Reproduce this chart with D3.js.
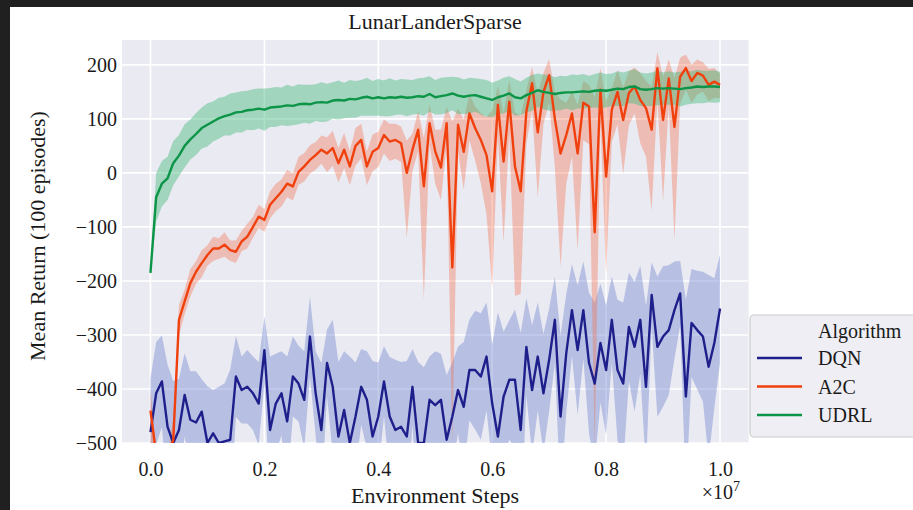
<!DOCTYPE html>
<html>
<head>
<meta charset="utf-8">
<script src="https://cdn.jsdelivr.net/npm/d3@7"></script>
<style>
  body { margin: 0; background: #fff; }
  svg text { font-family: "Liberation Serif", "DejaVu Serif", serif; fill: #1a1a1a; }
</style>
</head>
<body>
<script>
// x grid: one sample every 1e5 environment steps, 0 .. 1e7
const steps = d3.range(0, 101).map(i => i * 1e5);

const xTicks = [0, 0.2e7, 0.4e7, 0.6e7, 0.8e7, 1.0e7];
const yTicks = [-500, -400, -300, -200, -100, 0, 100, 200];

const algorithms = ["DQN", "A2C", "UDRL"];

// mean returns
const dqnMean = [
  -480, -408, -386, -470, -500, -476, -411, -457, -462, -442,
  -500, -482, -500, -497, -494, -377, -402, -396, -408, -427,
  -328, -476, -427, -408, -460, -377, -390, -420, -303, -408,
  -476, -352, -396, -488, -439, -500, -451, -396, -420, -488,
  -451, -386, -451, -476, -470, -488, -396, -500, -500, -420,
  -430, -420, -494, -451, -402, -433, -365, -365, -377, -340,
  -427, -488, -414, -383, -383, -476, -322, -402, -340, -408,
  -346, -272, -451, -334, -254, -328, -254, -352, -390, -315,
  -365, -272, -365, -390, -285, -322, -272, -396, -226, -322,
  -303, -291, -254, -223, -414, -278, -291, -303, -359, -315,
  -251
];
const dqnSpread = [
  100, 95, 85, 115, 115, 95, 77, 90, 95, 60,
  105, 80, 104, 107, 130, 75, 62, 68, 68, 77,
  62, 136, 92, 78, 120, 74, 70, 90, 74, 78,
  124, 62, 124, 138, 109, 160, 100, 70, 90, 140,
  100, 65, 110, 130, 120, 140, 70, 150, 140, 80,
  100, 85, 120, 100, 80, 120, 93, 110, 117, 100,
  110, 230, 120, 110, 130, 180, 90, 120, 100, 110,
  95, 80, 150, 110, 85, 120, 90, 130, 150, 110,
  120, 80, 130, 150, 100, 120, 100, 150, 60, 130,
  130, 120, 90, 60, 180, 100, 110, 120, 170, 120,
  100
];

const a2cMean = [
  -440, -520, -520, -520, -495, -272, -238, -204, -183, -167,
  -152, -140, -140, -133, -143, -146, -127, -118, -100, -81,
  -87, -59, -47, -35, -20, -25, 2, 12, 24, 33,
  43, 36, 46, 18, 43, 12, 50, 61, 12, 39,
  46, 70, 58, 61, 55, 0, 43, 80, -25, 92,
  40, 10, 92, -175, 89, 39, 110, 83, 61, 33,
  -34, 126, 21, 132, 12, -34, 114, 166, 75, 150,
  181, 100, 36, 70, 110, 36, 130, 123, -110, 154,
  -7, 117, 150, 98, 148, 160, 135, 120, 80, 194,
  98, 175, 85, 178, 194, 170, 185, 180, 163, 169,
  163
];
const a2cUp = [
  40, 0, 0, 0, 40, 28, 22, 26, 20, 24,
  18, 22, 19, 23, 18, 21, 20, 24, 19, 22,
  20, 25, 27, 23, 26, 24, 28, 25, 27, 24,
  26, 30, 32, 28, 31, 29, 33, 30, 28, 32,
  30, 29, 33, 30, 31, 60, 30, 35, 90, 35,
  40, 70, 30, 270, 30, 60, 35, 40, 50, 70,
  150, 35, 90, 40, 100, 140, 40, 30, 70, 35,
  30, 50, 100, 60, 40, 90, 40, 40, 250, 40,
  140, 40, 40, 60, 40, 35, 50, 50, 80, 30,
  80, 35, 90, 35, 25, 30, 25, 25, 30, 25,
  20
];
const a2cDown = [
  60, 0, 0, 0, 30, 28, 24, 25, 22, 26,
  20, 23, 19, 22, 20, 21, 18, 22, 20, 21,
  22, 25, 24, 27, 25, 26, 24, 28, 25, 27,
  26, 35, 33, 36, 34, 35, 37, 34, 35, 36,
  35, 34, 36, 35, 35, 120, 40, 40, 210, 40,
  60, 60, 40, 330, 50, 70, 50, 60, 80, 110,
  180, 60, 150, 60, 240, 190, 60, 50, 120, 60,
  50, 90, 210, 90, 80, 180, 70, 70, 400, 60,
  180, 60, 60, 100, 60, 50, 80, 90, 150, 60,
  150, 50, 210, 50, 40, 40, 40, 30, 30, 30,
  25
];

const udrlMean = [
  -185, -45, -20, -10, 18, 32, 50, 62, 72, 83,
  89, 95, 101, 105, 108, 112, 113, 116, 117, 119,
  117, 121, 122, 123, 125, 124, 127, 128, 127, 130,
  131, 130, 134, 135, 134, 137, 136, 139, 141, 138,
  140, 138, 140, 139, 141, 139, 140, 142, 141, 146,
  140, 142, 144, 147, 143, 141, 143, 144, 141, 138,
  135, 140, 143, 147, 140, 138, 144, 148, 153, 150,
  148, 146, 148, 149, 149, 150, 151, 150, 152, 153,
  152, 154, 156, 155, 159, 160, 155, 154, 155, 157,
  156, 157, 156, 155, 157, 158, 160, 159, 160, 160,
  159
];
const udrlSpread = [
  5, 45, 42, 40, 41, 38, 40, 37, 39, 38,
  40, 37, 38, 36, 39, 37, 38, 36, 38, 37,
  39, 36, 37, 35, 38, 36, 37, 35, 36, 34,
  37, 35, 34, 36, 33, 35, 34, 33, 35, 32,
  34, 33, 35, 32, 33, 34, 32, 33, 35, 33,
  32, 34, 33, 31, 34, 32, 33, 31, 33, 34,
  32, 31, 33, 32, 34, 31, 32, 33, 31, 32,
  33, 31, 32, 30, 33, 31, 32, 30, 31, 33,
  31, 30, 32, 31, 30, 32, 31, 30, 31, 32,
  30, 31, 30, 32, 31, 30, 31, 30, 29, 30,
  28
];

const lineColors = ["#1f1f8c", "#f0400e", "#0c9447"];
const bandColors = ["#6f86d0", "#f46a45", "#3cb878"];
const bandOpacity = [0.42, 0.35, 0.42];

const series = [
  { mean: dqnMean, lo: dqnMean.map((m, i) => m - dqnSpread[i]), hi: dqnMean.map((m, i) => m + dqnSpread[i]) },
  { mean: a2cMean, lo: a2cMean.map((m, i) => m - a2cDown[i]), hi: a2cMean.map((m, i) => m + a2cUp[i]) },
  { mean: udrlMean, lo: udrlMean.map((m, i) => m - udrlSpread[i]), hi: udrlMean.map((m, i) => m + udrlSpread[i]) }
];

const width = 913, height = 510;
const plot = { left: 122, right: 748.5, top: 40, bottom: 443 };

const x = d3.scaleLinear().domain([-0.05e7, 1.05e7]).range([plot.left, plot.right]);
const y = d3.scaleLinear().domain([-500, 246]).range([plot.bottom, plot.top]);

const svg = d3.select("body").append("svg")
    .attr("width", width)
    .attr("height", height);

// screenshot frame
svg.append("rect").attr("width", width).attr("height", height).attr("fill", "#fff");
svg.append("rect").attr("width", width).attr("height", 7).attr("fill", "#202020");
svg.append("rect").attr("width", 10).attr("height", height).attr("fill", "#202020");

// plot background + grid
svg.append("rect")
    .attr("x", plot.left).attr("y", plot.top)
    .attr("width", plot.right - plot.left).attr("height", plot.bottom - plot.top)
    .attr("fill", "#eaeaf2");

svg.append("g").selectAll("line").data(xTicks).join("line")
    .attr("x1", d => x(d)).attr("x2", d => x(d))
    .attr("y1", plot.top).attr("y2", plot.bottom)
    .attr("stroke", "#fff").attr("stroke-width", 1.6);

svg.append("g").selectAll("line").data(yTicks).join("line")
    .attr("x1", plot.left).attr("x2", plot.right)
    .attr("y1", d => y(d)).attr("y2", d => y(d))
    .attr("stroke", "#fff").attr("stroke-width", 1.6);

svg.append("clipPath").attr("id", "clip").append("rect")
    .attr("x", plot.left).attr("y", plot.top)
    .attr("width", plot.right - plot.left).attr("height", plot.bottom - plot.top);

const marks = svg.append("g").attr("clip-path", "url(#clip)");

const area = d3.area()
    .x((d, i) => x(steps[i]))
    .y0(d => y(d[0]))
    .y1(d => y(d[1]));

const line = d3.line()
    .x((d, i) => x(steps[i]))
    .y(d => y(d));

// bands below all lines (matplotlib zorder)
series.forEach((s, k) => {
    marks.append("path")
        .attr("d", area(s.lo.map((v, i) => [v, s.hi[i]])))
        .attr("fill", bandColors[k])
        .attr("fill-opacity", bandOpacity[k]);
});

series.forEach((s, k) => {
    marks.append("path")
        .attr("d", line(s.mean))
        .attr("fill", "none")
        .attr("stroke", lineColors[k])
        .attr("stroke-width", 2.4)
        .attr("stroke-linejoin", "round");
});

// axes
const fontStack = '"Liberation Serif", "DejaVu Serif", serif';

const yAxis = svg.append("g")
    .attr("transform", `translate(${plot.left},0)`)
    .call(d3.axisLeft(y).tickValues(yTicks).tickSize(0).tickPadding(5)
        .tickFormat(d => d < 0 ? "\u2212" + Math.abs(d) : d));
yAxis.attr("font-size", 20).attr("font-family", fontStack);
yAxis.select(".domain").remove();

const xAxis = svg.append("g")
    .attr("transform", `translate(0,${plot.bottom})`)
    .call(d3.axisBottom(x).tickValues(xTicks).tickSize(0).tickPadding(19)
        .tickFormat(d => (d / 1e7).toFixed(1)));
xAxis.attr("font-size", 20).attr("font-family", fontStack);
xAxis.select(".domain").remove();

svg.append("text")
    .attr("x", 435).attr("y", 29)
    .attr("text-anchor", "middle")
    .style("font-size", "22px")
    .text("LunarLanderSparse");

svg.append("text")
    .attr("x", 435).attr("y", 503)
    .attr("text-anchor", "middle")
    .style("font-size", "22px")
    .text("Environment Steps");

svg.append("text")
    .attr("transform", "translate(45,236) rotate(-90)")
    .attr("text-anchor", "middle")
    .style("font-size", "22px")
    .text("Mean Return (100 episodes)");

const offset = svg.append("text")
    .attr("x", 740).attr("y", 499)
    .attr("text-anchor", "end")
    .style("font-size", "20px");
offset.append("tspan").text("\u00d710");
offset.append("tspan").attr("dy", -8).style("font-size", "14px").text("7");

// legend
const legend = svg.append("g");
legend.append("rect")
    .attr("x", 750).attr("y", 315)
    .attr("width", 180).attr("height", 122)
    .attr("rx", 4)
    .attr("fill", "#eeeef4")
    .attr("stroke", "#cccccc")
    .attr("stroke-width", 1.2);

legend.append("text")
    .attr("x", 818).attr("y", 338)
    .style("font-size", "20px")
    .text("Algorithm");

const legendY = d3.scalePoint().domain(algorithms).range([358, 415]);

algorithms.forEach((name, k) => {
    legend.append("line")
        .attr("x1", 757).attr("x2", 802)
        .attr("y1", legendY(name)).attr("y2", legendY(name))
        .attr("stroke", lineColors[k]).attr("stroke-width", 2.6);
    legend.append("text")
        .attr("x", 818).attr("y", legendY(name) + 7)
        .style("font-size", "20px")
        .text(name);
});
</script>
</body>
</html>
